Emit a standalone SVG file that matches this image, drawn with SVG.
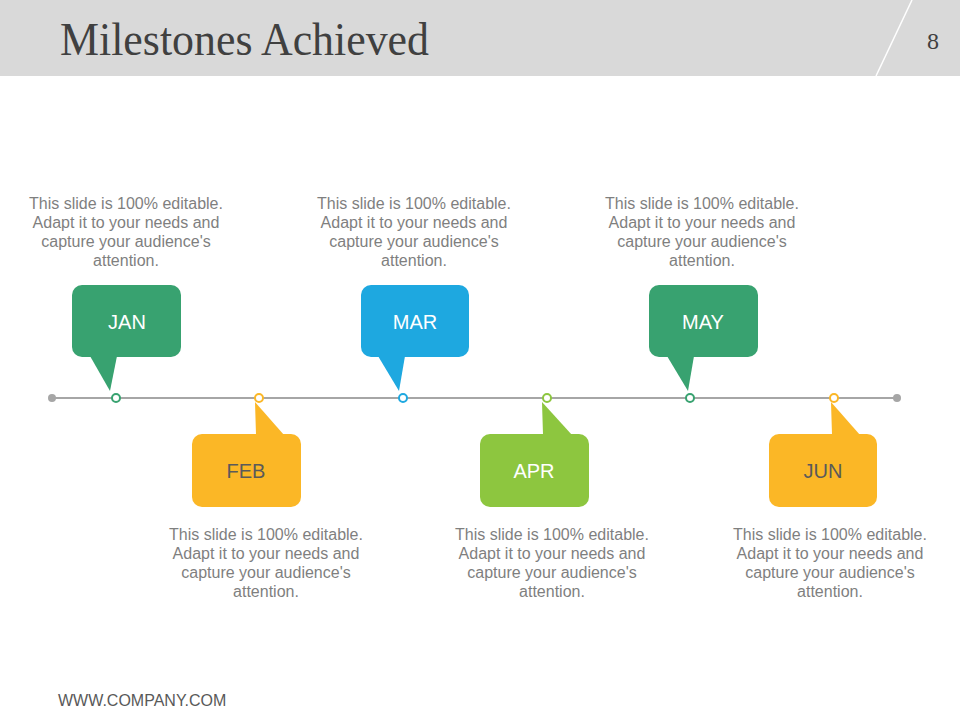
<svg xmlns="http://www.w3.org/2000/svg" width="960" height="720" viewBox="0 0 960 720">
<style>
.desc{font-family:"Liberation Sans",Arial,sans-serif;font-size:16px;fill:#7f7f7f;text-anchor:middle}
.lbl{font-family:"Liberation Sans",Arial,sans-serif;font-size:20px;text-anchor:middle}
.w{fill:#ffffff}
.d{fill:#5a5a5a}
.g{fill:#38a270}
.b{fill:#1ea8e0}
.l{fill:#8dc63f}
.y{fill:#fbb726}
.dot{fill:#ffffff;stroke-width:2}
</style>
<rect x="0" y="0" width="960" height="76" fill="#d9d9d9"/>
<line x1="912" y1="0" x2="876" y2="76" stroke="#ffffff" stroke-width="1.5"/>
<text x="60" y="55" font-family="'Liberation Serif',serif" font-size="46" fill="#404040" textLength="369" lengthAdjust="spacingAndGlyphs">Milestones Achieved</text>
<text x="933" y="49" font-family="'Liberation Serif',serif" font-size="24" fill="#404040" text-anchor="middle">8</text>
<g id="connectors">
<line x1="52" y1="398" x2="897" y2="398" stroke="#a6a6a6" stroke-width="2"/>
<circle cx="52" cy="398" r="4" fill="#a6a6a6"/>
<circle cx="897" cy="398" r="4" fill="#a6a6a6"/>
</g>
<g id="jan">
<rect x="72" y="285" width="109" height="72" rx="10" class="g"/>
<polygon points="90,356 117,356 110,391" class="g"/>
<circle cx="116" cy="398" r="4" class="dot" stroke="#38a270"/>
<text x="127" y="329" class="lbl w">JAN</text>
<text class="desc"><tspan x="126" y="209">This slide is 100% editable.</tspan><tspan x="126" y="228">Adapt it to your needs and</tspan><tspan x="126" y="247">capture your audience's</tspan><tspan x="126" y="266">attention.</tspan></text>
</g>
<g id="feb">
<rect x="192" y="434" width="109" height="73" rx="10" class="y"/>
<polygon points="256,435 284,435 255,402" class="y"/>
<circle cx="259" cy="398" r="4" class="dot" stroke="#fbb726"/>
<text x="246" y="478" class="lbl d">FEB</text>
<text class="desc"><tspan x="266" y="540">This slide is 100% editable.</tspan><tspan x="266" y="559">Adapt it to your needs and</tspan><tspan x="266" y="578">capture your audience's</tspan><tspan x="266" y="597">attention.</tspan></text>
</g>
<g id="mar">
<rect x="361" y="285" width="108" height="72" rx="10" class="b"/>
<polygon points="378,356 405,356 399,391" class="b"/>
<circle cx="403" cy="398" r="4" class="dot" stroke="#1ea8e0"/>
<text x="415" y="329" class="lbl w">MAR</text>
<text class="desc"><tspan x="414" y="209">This slide is 100% editable.</tspan><tspan x="414" y="228">Adapt it to your needs and</tspan><tspan x="414" y="247">capture your audience's</tspan><tspan x="414" y="266">attention.</tspan></text>
</g>
<g id="apr">
<rect x="480" y="434" width="109" height="73" rx="10" class="l"/>
<polygon points="543,435 572,435 542,402" class="l"/>
<circle cx="547" cy="398" r="4" class="dot" stroke="#8dc63f"/>
<text x="534" y="478" class="lbl w">APR</text>
<text class="desc"><tspan x="552" y="540">This slide is 100% editable.</tspan><tspan x="552" y="559">Adapt it to your needs and</tspan><tspan x="552" y="578">capture your audience's</tspan><tspan x="552" y="597">attention.</tspan></text>
</g>
<g id="may">
<rect x="649" y="285" width="109" height="72" rx="10" class="g"/>
<polygon points="667,356 694,356 688,391" class="g"/>
<circle cx="690" cy="398" r="4" class="dot" stroke="#38a270"/>
<text x="703" y="329" class="lbl w">MAY</text>
<text class="desc"><tspan x="702" y="209">This slide is 100% editable.</tspan><tspan x="702" y="228">Adapt it to your needs and</tspan><tspan x="702" y="247">capture your audience's</tspan><tspan x="702" y="266">attention.</tspan></text>
</g>
<g id="jun">
<rect x="769" y="434" width="108" height="73" rx="10" class="y"/>
<polygon points="832,435 860,435 831,402" class="y"/>
<circle cx="834" cy="398" r="4" class="dot" stroke="#fbb726"/>
<text x="823" y="478" class="lbl d">JUN</text>
<text class="desc"><tspan x="830" y="540">This slide is 100% editable.</tspan><tspan x="830" y="559">Adapt it to your needs and</tspan><tspan x="830" y="578">capture your audience's</tspan><tspan x="830" y="597">attention.</tspan></text>
</g>
<text x="58" y="706" font-family="'Liberation Sans',Arial,sans-serif" font-size="16" fill="#595959">WWW.COMPANY.COM</text>
</svg>
